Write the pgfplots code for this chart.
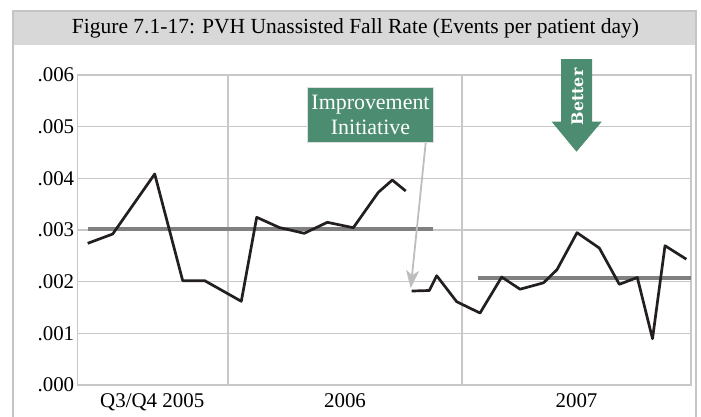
\documentclass[border=0pt]{standalone}
\usepackage{pgfplots}
\pgfplotsset{compat=1.18}
\usepackage{fontspec}
\setmainfont{Liberation Serif}
\newfontfamily\betterfont{DejaVu Serif}
\usetikzlibrary{arrows.meta}
\definecolor{boxgreen}{RGB}{76,141,113}
\definecolor{gridgray}{RGB}{200,200,200}
\definecolor{meangray}{RGB}{128,128,128}
\definecolor{bandgray}{RGB}{216,216,216}
\definecolor{framegray}{RGB}{196,196,196}
\definecolor{dataline}{RGB}{35,31,32}
\definecolor{arrowgray}{RGB}{190,190,190}
\begin{document}
\begin{tikzpicture}[x=1bp,y=1bp]
\path[use as bounding box] (0,0) rectangle (701,416);
% frame and title band
\fill[white] (13,-5) rectangle (696,405);
\fill[bandgray] (13,371) rectangle (696,405);
\draw[framegray, line width=1.5bp] (13,-5) -- (13,405) -- (696,405) -- (696,-5);
\node[font=\fontsize{21.6}{25}\selectfont] at (355.5,388) {Figure 7.1-17: PVH Unassisted Fall Rate (Events per patient day)};
\begin{axis}[
  at={(77.7bp,31bp)}, anchor=south west,
  scale only axis, width=613.3bp, height=310bp,
  xmin=0, xmax=613.3, ymin=0, ymax=0.006,
  scaled y ticks=false,
  ytick={0,0.001,0.002,0.003,0.004,0.005,0.006},
  yticklabels={.000,.001,.002,.003,.004,.005,.006},
  ytick style={draw=none},
  ymajorgrids, major grid style={gridgray, line width=1.2bp},
  axis line style={gridgray, line width=1.2bp},
  xtick={74.5,267.3,498.8},
  xticklabels={Q3/Q4 2005,2006,2007},
  xtick style={draw=none},
  extra x ticks={150.3,384.3},
  extra x tick labels={},
  extra x tick style={grid=major, tick style={draw=gridgray, line width=1.2bp}, tick align=outside, major tick length=12bp},
  ticklabel style={font=\fontsize{21}{24}\selectfont},
  every x tick label/.append style={yshift=-5bp},
  clip=false,
]
\addplot[meangray, line width=4bp] coordinates {(10.3,0.003013) (355,0.003013)};
\addplot[meangray, line width=4bp] coordinates {(400.6,0.00208) (613.3,0.00208)};
\addplot[dataline, line width=2.7bp, line join=round] table {
x y
10 0.002742
35 0.002922
77 0.004084
105 0.002019
127 0.002019
163.6 0.001620
179 0.003246
201.6 0.003048
226.6 0.002936
249.6 0.003149
275.6 0.003044
300.6 0.003729
314.6 0.003967
328 0.003755
};
\addplot[dataline, line width=2.7bp, line join=round] table {
x y
334 0.001819
351.6 0.001829
359 0.002115
379 0.001612
402.3 0.001393
424 0.002090
442.3 0.001854
465.8 0.001978
479.3 0.002233
499.3 0.002948
521.6 0.002651
541.6 0.001949
559.6 0.002081
574.8 0.000896
587.3 0.002696
608.6 0.002435
};
\end{axis}
% Improvement Initiative annotation
\draw[arrowgray, line width=1.8bp, -{Stealth[length=18bp,width=13bp,inset=5bp]}] (425.7,273.3) -- (410.7,127.7);
\fill[boxgreen] (307.7,273.3) rectangle (433.3,328.7);
\draw[white!75!gray, line width=0.8bp] (307.7,273.3) rectangle (433.3,328.7);
\node[text=white, align=center, font=\fontsize{22}{24.5}\selectfont] at (370.5,301) {Improvement\\Initiative};
% Better arrow
\fill[boxgreen] (561,357) -- (592,357) -- (592,294.3) -- (601.7,294.3) -- (576.5,264.3) -- (551.7,294.3) -- (561,294.3) -- cycle;
\node[text=white, rotate=90, font=\betterfont\bfseries\fontsize{16}{19}\selectfont] at (577.5,319) {Better};
\end{tikzpicture}
\end{document}
